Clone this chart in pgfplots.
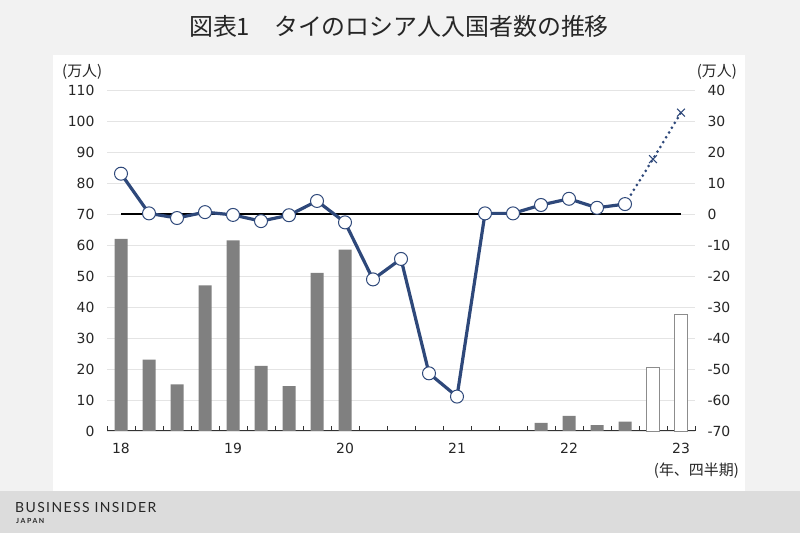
\documentclass[border=0pt]{standalone}
\usepackage{fontspec}
\usepackage{pgfplots}
\pgfplotsset{compat=1.18}
\setmainfont{DejaVu Sans}
\newfontfamily\cjk{Noto Sans CJK JP}
\newfontfamily\bifont[LetterSpace=10]{Lato}
\newfontfamily\bifontj[LetterSpace=22]{Lato}
\definecolor{navy}{RGB}{46,72,122}
\definecolor{bargray}{RGB}{128,128,128}
\definecolor{bgc}{RGB}{242,242,242}
\definecolor{foot}{RGB}{220,220,220}
\definecolor{gridc}{RGB}{228,228,228}
\pgfplotstableread{
x y
0 62
1 23
2 15
3 47
4 61.5
5 21
6 14.5
7 51
8 58.5
15 2.6
16 4.9
17 1.9
18 3.0
}\barsdata
\pgfplotstableread{
x y
19 20.4
20 37.6
}\barsfcst
\pgfplotstableread{
x y
0 13
1 0.2
2 -1.3
3 0.6
4 -0.3
5 -2.3
6 -0.4
7 4.2
8 -2.7
9 -21.1
10 -14.5
11 -51.4
12 -58.9
13 0.2
14 0.2
15 2.9
16 4.9
17 2.0
18 3.2
}\linedata
\pgfplotstableread{
x y
18 3.2
19 17.7
20 32.7
}\linefcst
\pgfplotstableread{
x y
-0.5 1.6
0.5 1.6
1.5 1.6
2.5 1.6
3.5 1.6
4.5 1.6
5.5 1.6
6.5 1.6
7.5 1.6
8.5 1.6
9.5 1.6
10.5 1.6
11.5 1.6
12.5 1.6
13.5 1.6
14.5 1.6
15.5 1.6
16.5 1.6
17.5 1.6
18.5 1.6
19.5 1.6
20.5 1.6
}\tickdata
\begin{document}
\begin{tikzpicture}[x=1bp,y=1bp]
\fill[bgc] (0,0) rectangle (800,533);
\fill[foot] (0,0) rectangle (800,42);
\fill[white] (53,42) rectangle (745,478);
\node[font=\cjk\fontsize{24}{28}\selectfont, text=black!85] at (399,507) {図表1　タイのロシア人入国者数の推移};
\node[font=\cjk\fontsize{15}{17}\selectfont, anchor=west, inner sep=0pt, text=black!85] at (62,461) {(万人)};
\node[font=\cjk\fontsize{15}{17}\selectfont, anchor=east, inner sep=0pt, text=black!85] at (737,461) {(万人)};
\node[font=\cjk\fontsize{15}{17}\selectfont, anchor=east, inner sep=0pt, text=black!85] at (739,62) {(年、四半期)};
\node[font=\bifont\fontsize{14}{16}\selectfont, anchor=base west, inner sep=0pt, text=black!85] at (15,20) {BUSINESS INSIDER};
\node[font=\bifontj\bfseries\fontsize{7}{8}\selectfont, anchor=base west, inner sep=0pt, text=black!85] at (16,9) {JAPAN};
\begin{axis}[
  at={(107bp,102bp)}, anchor=south west,
  scale only axis, width=588bp, height=341bp,
  xmin=-0.5, xmax=20.5, ymin=0, ymax=110,
  axis x line*=bottom, axis y line*=left,
  y axis line style={draw=none},
  x axis line style={black!80, line width=1bp, -},
  ytick={0,10,...,110},
  ymajorgrids, grid style={gridc, line width=0.8bp},
  xtick={0,4,...,20}, xticklabels={18,19,20,21,22,23},
  major tick length=0pt,
  tick label style={font=\fontsize{14}{16}\selectfont, text=black!85},
  /pgf/number format/assume math mode=true,
  yticklabel style={xshift=-9bp},
  xticklabel style={yshift=-9bp},
  clip=false,
]
\addplot[ybar, bar width=13bp, bar shift=0pt, fill=bargray, draw=none] table {\barsdata};
\addplot[ybar, bar width=13bp, bar shift=0pt, fill=white, draw=black!45, line width=0.9bp] table {\barsfcst};
\addplot[ycomb, black!80, line width=0.9bp, mark=none] table {\tickdata};
\end{axis}
\begin{axis}[
  at={(107bp,102bp)}, anchor=south west,
  scale only axis, width=588bp, height=341bp,
  xmin=-0.5, xmax=20.5, ymin=-70, ymax=40,
  axis y line*=right, axis x line=none,
  y axis line style={draw=none},
  ytick={-70,-60,...,40},
  major tick length=0pt,
  tick label style={font=\fontsize{14}{16}\selectfont, text=black!85},
  /pgf/number format/assume math mode=true,
  yticklabel style={xshift=9bp},
  clip=false,
]
\addplot[black, line width=1.3bp] coordinates {(0,0) (20,0)};
\addplot[navy, line width=3.2bp, mark=*, mark size=6.5bp, mark options={fill=white, draw=navy, line width=1bp}] table {\linedata};
\addplot[navy, line width=3bp, line cap=round, dash pattern=on 0pt off 5.6bp] table {\linefcst};
\addplot[navy, only marks, mark=x, mark size=5.5bp, mark options={line width=1.2bp, solid}] coordinates {(19,17.7) (20,32.7)};
\end{axis}
\end{tikzpicture}
\end{document}
